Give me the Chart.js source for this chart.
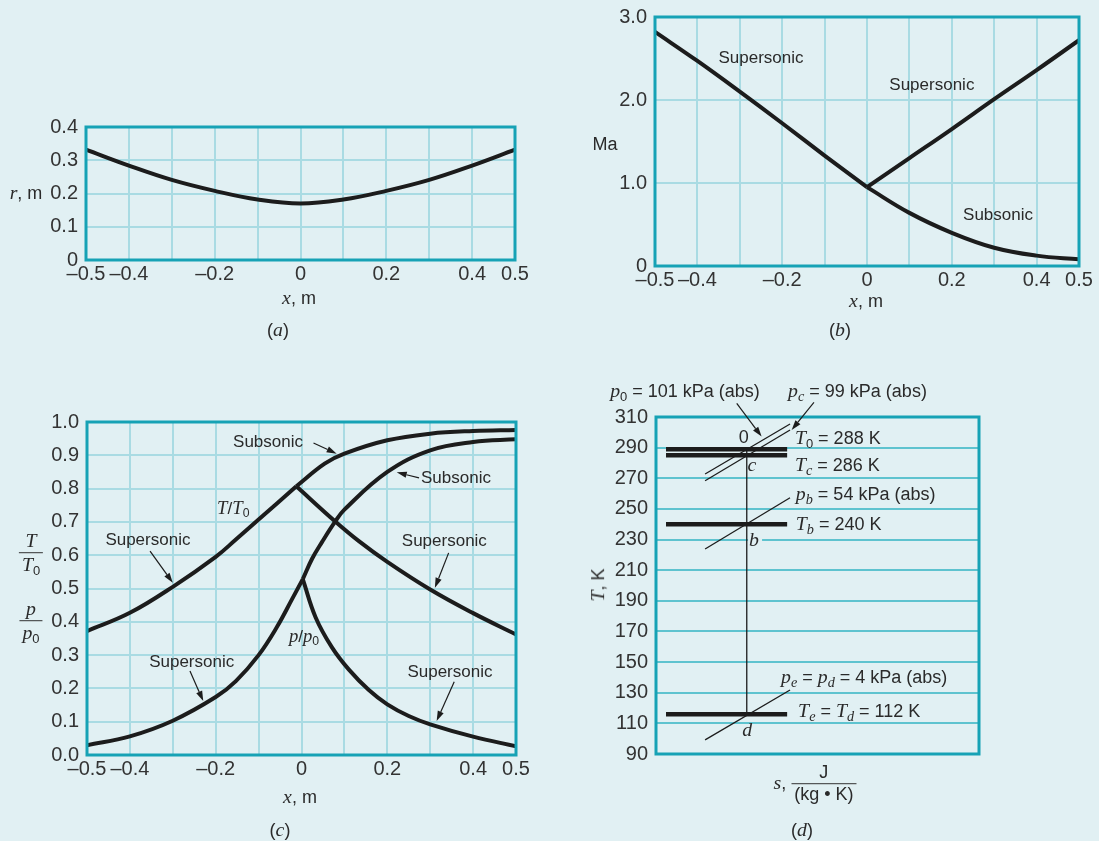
<!DOCTYPE html>
<html>
<head>
<meta charset="utf-8">
<script src="https://cdn.jsdelivr.net/npm/chart.js@4.4.1/dist/chart.umd.min.js"></script>
<style>
body { margin: 0; background: #e1f0f3; }
#page { position: relative; width: 1099px; height: 841px; overflow: hidden;
        font-family: "Liberation Sans", Arial, sans-serif; color: #2a2a2a; }
.box { position: absolute; }
.lbl { position: absolute; white-space: nowrap; font-size: 17px; line-height: 1; }
.big { font-size: 18px; }
i { font-family: "Liberation Serif", "Times New Roman", serif; font-style: italic; font-size: 1.1em; }
sub { font-size: 0.72em; vertical-align: -0.3em; line-height: 0; }
.frac { display: inline-flex; flex-direction: column; align-items: center; vertical-align: middle; line-height: 1.1; }
.frac > span:last-child { border-top: 1.3px solid #333; padding: 1px 3px 0; }
.gap { background: #e1f0f3; padding: 0 3px 0 1px; }
</style>
</head>
<body>
<div id="page"></div>
<script>
// ---- data ----
// (a) nozzle radius
const rX = [-0.5, -0.4, -0.3, -0.2, -0.1, 0, 0.1, 0.2, 0.3, 0.4, 0.5];
const rVal = [0.332, 0.284, 0.241, 0.208, 0.182, 0.170, 0.182, 0.208, 0.241, 0.284, 0.332];

// (b) Mach number
const maLeftX = [-0.5, -0.4, -0.3, -0.2, -0.1, 0];
const maLeft = [2.82, 2.47, 2.10, 1.72, 1.33, 0.95];
const maRightX = [0, 0.1, 0.2, 0.3, 0.4, 0.5];
const maSuper = [0.95, 1.30, 1.65, 2.01, 2.36, 2.72];
const maSub = [0.95, 0.64, 0.40, 0.22, 0.125, 0.08];

// (c) temperature and pressure ratios
const tLeftX = [-0.5, -0.4, -0.3, -0.2, -0.153, -0.1, -0.012];
const tLeft = [0.372, 0.427, 0.505, 0.595, 0.647, 0.707, 0.807];
const tSubX = [-0.012, 0.054, 0.1, 0.2, 0.3, 0.4, 0.5];
const tSub = [0.807, 0.875, 0.905, 0.945, 0.965, 0.973, 0.976];
const tSupX = [-0.012, 0.078, 0.133, 0.2, 0.3, 0.4, 0.5];
const tSup = [0.807, 0.702, 0.643, 0.58, 0.497, 0.426, 0.362];
const pLeftX = [-0.5, -0.4, -0.3, -0.2, -0.153, -0.1, -0.057, -0.022, 0.003];
const pLeft = [0.029, 0.056, 0.103, 0.174, 0.222, 0.300, 0.385, 0.468, 0.528];
const pSubX = [0.003, 0.025, 0.048, 0.078, 0.1, 0.2, 0.3, 0.4, 0.5];
const pSub = [0.528, 0.59, 0.64, 0.70, 0.737, 0.85, 0.915, 0.94, 0.948];
const pSupX = [0.003, 0.033, 0.071, 0.11, 0.157, 0.2, 0.25, 0.3, 0.4, 0.5];
const pSup = [0.528, 0.413, 0.323, 0.257, 0.195, 0.152, 0.117, 0.092, 0.055, 0.026];

// (d) T-s diagram (s in arbitrary units 0..100)
const barT = [289, 285, 240, 116];
const barS = [3.1, 40.6];
const isoS = [15.2, 41.5];
const isoT = [[272.8, 305.4], [268.4, 301.5], [223.8, 257.3], [99.2, 131.8]];
const expS = 28.1;
const expT = [289, 116];

// tick labels
const xTickText = ['\u20130.5', '\u20130.4', '', '\u20130.2', '', '0', '', '0.2', '', '0.4', '0.5'];
const rTickText = ['0', '0.1', '0.2', '0.3', '0.4'];
const maTickText = ['0', '1.0', '2.0', '3.0'];
const ratioTickText = ['0.0', '0.1', '0.2', '0.3', '0.4', '0.5', '0.6', '0.7', '0.8', '0.9', '1.0'];
const tempTickText = ['90', '110', '130', '150', '170', '190', '210', '230', '250', '270', '290', '310'];

// ---- layout ----
const page = document.getElementById('page');
const W = 80, H = 34, PT = 24, PR = 30;
const INK = '#1c1c1c';
const FRAME = '#16a2b5';
const GRID = '#a9dbe3';
const GRID_D = '#5ec3cf';

const pts = (xs, ys) => xs.map((x, i) => ({ x: x, y: ys[i] }));

const notesPlugin = {
  id: 'notes',
  afterDatasetsDraw(chart, args, opts) {
    const { ctx, chartArea: a } = chart;
    const sx = chart.scales.x, sy = chart.scales.y;
    ctx.save();
    ctx.strokeStyle = FRAME;
    ctx.lineWidth = 3;
    ctx.strokeRect(a.left, a.top, a.right - a.left, a.bottom - a.top);
    ctx.strokeStyle = INK;
    ctx.fillStyle = INK;
    ctx.lineWidth = 1.2;
    (opts.arrows || []).forEach(ar => {
      const x0 = sx.getPixelForValue(ar[0]), y0 = sy.getPixelForValue(ar[1]);
      const x1 = sx.getPixelForValue(ar[2]), y1 = sy.getPixelForValue(ar[3]);
      const ang = Math.atan2(y1 - y0, x1 - x0);
      const L = 10, hw = 3.2;
      const bx = x1 - L * Math.cos(ang), by = y1 - L * Math.sin(ang);
      ctx.beginPath(); ctx.moveTo(x0, y0); ctx.lineTo(bx, by); ctx.stroke();
      ctx.beginPath();
      ctx.moveTo(x1, y1);
      ctx.lineTo(bx + hw * Math.sin(ang), by - hw * Math.cos(ang));
      ctx.lineTo(bx - hw * Math.sin(ang), by + hw * Math.cos(ang));
      ctx.closePath(); ctx.fill();
    });
    ctx.restore();
  },
  afterRender(chart, args, opts) {
    const box = chart.canvas.parentNode;
    (opts.labels || []).forEach((lb, i) => {
      const key = chart.canvas.id + '-' + i;
      let el = document.getElementById(key);
      if (!el) {
        el = document.createElement('div');
        el.id = key;
        el.className = 'lbl ' + (lb[4] || '');
        el.innerHTML = lb[2];
        page.appendChild(el);
      }
      const px = box.offsetLeft + chart.scales.x.getPixelForValue(lb[0]);
      const py = box.offsetTop + chart.scales.y.getPixelForValue(lb[1]);
      el.style.left = px + 'px';
      el.style.top = py + 'px';
      el.style.transform = lb[3] === 'left' ? 'translate(0,-50%)' : 'translate(-50%,-50%)';
    });
  }
};

function tickFont() {
  return { family: '"Liberation Sans", Arial, sans-serif', size: 20 };
}

function xAxis(min, max, step, texts, gridColor, show) {
  return {
    type: 'linear', min: min, max: max,
    afterFit: s => { s.height = H; },
    grid: { display: show, color: gridColor, lineWidth: 2, drawTicks: false },
    border: { display: false },
    ticks: {
      display: show, stepSize: step, autoSkip: false, maxRotation: 0, padding: 2,
      color: '#333', font: tickFont(),
      callback: (v, i) => texts[i]
    }
  };
}

function yAxis(min, max, step, texts, gridColor) {
  return {
    type: 'linear', min: min, max: max,
    afterFit: s => { s.width = W; },
    grid: { color: gridColor, lineWidth: 2, drawTicks: false },
    border: { display: false },
    ticks: {
      stepSize: step, autoSkip: false, padding: 8,
      color: '#333', font: tickFont(),
      callback: (v, i) => texts[i]
    }
  };
}

function makeChart(id, frame, datasets, xs, ys, notes) {
  const box = document.createElement('div');
  box.className = 'box';
  const width = W + (frame[2] - frame[0]) + PR;
  const height = PT + (frame[3] - frame[1]) + H;
  box.style.left = (frame[0] - W) + 'px';
  box.style.top = (frame[1] - PT) + 'px';
  const cv = document.createElement('canvas');
  cv.id = id; cv.width = width; cv.height = height;
  box.appendChild(cv);
  page.appendChild(box);
  return new Chart(cv.getContext('2d'), {
    type: 'line',
    data: { datasets: datasets },
    options: {
      responsive: false, animation: false, devicePixelRatio: 1,
      layout: { padding: { left: 0, top: PT, right: PR, bottom: 0 }, autoPadding: false },
      plugins: { legend: { display: false }, tooltip: { enabled: false }, notes: notes },
      elements: {
        point: { radius: 0 },
        line: { borderColor: INK, borderWidth: 4, borderCapStyle: 'butt', borderJoinStyle: 'round' }
      },
      scales: { x: xs, y: ys }
    },
    plugins: [notesPlugin]
  });
}

const curve = (data) => ({ data: data, tension: 0.4 });

// (a)
makeChart('ca', [86, 127, 515, 260],
  [curve(pts(rX, rVal))],
  xAxis(-0.5, 0.5, 0.1, xTickText, GRID, true),
  yAxis(0, 0.4, 0.1, rTickText, GRID),
  { labels: [] });

// (b)
makeChart('cb', [655, 17, 1079, 266],
  [curve(pts(maLeftX, maLeft)), curve(pts(maRightX, maSuper)), curve(pts(maRightX, maSub))],
  xAxis(-0.5, 0.5, 0.1, xTickText, GRID, true),
  yAxis(0, 3, 1, maTickText, GRID),
  { labels: [
      [-0.25, 2.52, 'Supersonic'],
      [0.153, 2.19, 'Supersonic'],
      [0.309, 0.63, 'Subsonic']
  ] });

// (c)
makeChart('cc', [87, 422, 516, 755],
  [curve(pts(tLeftX, tLeft)), curve(pts(tSubX, tSub)), curve(pts(tSupX, tSup)),
   curve(pts(pLeftX, pLeft)), curve(pts(pSubX, pSub)), curve(pts(pSupX, pSup))],
  xAxis(-0.5, 0.5, 0.1, xTickText, GRID, true),
  yAxis(0, 1, 0.1, ratioTickText, GRID),
  { labels: [
      [-0.078, 0.942, 'Subsonic'],
      [-0.159, 0.741, '<i>T</i>/<i>T</i><sub>0</sub>'],
      [-0.358, 0.648, 'Supersonic'],
      [-0.256, 0.282, 'Supersonic'],
      [0.006, 0.357, '<i>p</i>/<i>p</i><sub>0</sub>'],
      [0.36, 0.834, 'Subsonic'],
      [0.333, 0.647, 'Supersonic'],
      [0.346, 0.252, 'Supersonic']
    ],
    arrows: [
      [0.028, 0.937, 0.082, 0.905],
      [-0.353, 0.612, -0.300, 0.517],
      [-0.260, 0.252, -0.229, 0.162],
      [0.274, 0.832, 0.222, 0.849],
      [0.343, 0.607, 0.311, 0.502],
      [0.356, 0.220, 0.315, 0.102]
    ] });

// (d)
const dSets = [];
barT.forEach(t => dSets.push({ data: barS.map(s => ({ x: s, y: t })), borderWidth: 4.5 }));
isoT.forEach(tt => dSets.push({ data: pts(isoS, tt), borderWidth: 1.3 }));
dSets.push({ data: expT.map(t => ({ x: expS, y: t })), borderWidth: 1.3 });
makeChart('cd', [656, 417, 979, 754],
  dSets,
  xAxis(0, 100, 10, [], GRID_D, false),
  yAxis(90, 310, 20, tempTickText, GRID_D),
  { labels: [
      [-14.2, 327.0, '<i>p</i><sub>0</sub> = 101 kPa (abs)', 'left', 'big'],
      [40.9, 327.0, '<i>p</i><sub><i>c</i></sub> = 99 kPa (abs)', 'left', 'big'],
      [27.2, 297.0, '0', 'center', 'big'],
      [43.0, 296.3, '<i>T</i><sub>0</sub> = 288 K', 'left', 'big'],
      [29.7, 278.7, '<i>c</i>', 'center', 'big'],
      [43.0, 278.7, '<i>T</i><sub><i>c</i></sub> = 286 K', 'left', 'big'],
      [43.3, 259.7, '<i>p</i><sub><i>b</i></sub> = 54 kPa (abs)', 'left', 'big'],
      [43.3, 240.2, '<i>T</i><sub><i>b</i></sub> = 240 K', 'left', 'big'],
      [30.6, 229.7, '<i>b</i>', 'center', 'big gap'],
      [38.7, 140.3, '<i>p</i><sub><i>e</i></sub> = <i>p</i><sub><i>d</i></sub> = 4 kPa (abs)', 'left', 'big'],
      [44.0, 118.1, '<i>T</i><sub><i>e</i></sub> = <i>T</i><sub><i>d</i></sub> = 112 K', 'left', 'big'],
      [28.2, 105.7, '<i>d</i>', 'center', 'big']
    ],
    arrows: [
      [25.0, 318.9, 32.7, 297.2],
      [48.9, 319.6, 42.0, 301.5]
    ] });

// axis titles and captions (page pixels)
const pageLabels = [
  [26, 193, '<i>r</i>, m'],
  [299, 298, '<i>x</i>, m'],
  [278, 330, '(<i>a</i>)'],
  [605, 144, 'Ma'],
  [866, 301, '<i>x</i>, m'],
  [840, 330, '(<i>b</i>)'],
  [31, 553, '<span class="frac"><span><i>T</i></span><span><i>T</i><sub>0</sub></span></span>'],
  [31, 621, '<span class="frac"><span><i>p</i></span><span><i>p</i><sub>0</sub></span></span>'],
  [300, 797, '<i>x</i>, m'],
  [280, 830, '(<i>c</i>)'],
  [815, 784, '<i>s</i>, <span class="frac"><span>J</span><span>(kg \u2022 K)</span></span>'],
  [802, 830, '(<i>d</i>)']
];
pageLabels.forEach(pl => {
  const el = document.createElement('div');
  el.className = 'lbl big';
  el.innerHTML = pl[2];
  el.style.left = pl[0] + 'px';
  el.style.top = pl[1] + 'px';
  el.style.transform = 'translate(-50%,-50%)';
  page.appendChild(el);
});
const tk = document.createElement('div');
tk.className = 'lbl big';
tk.innerHTML = '<i>T</i>, K';
tk.style.left = '598px';
tk.style.top = '585px';
tk.style.transform = 'translate(-50%,-50%) rotate(-90deg)';
page.appendChild(tk);
</script>
</body>
</html>
